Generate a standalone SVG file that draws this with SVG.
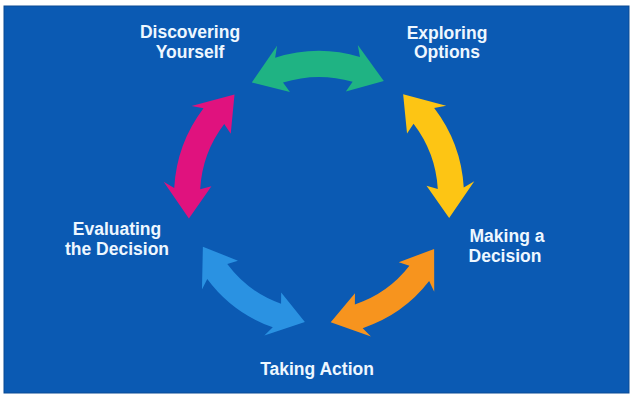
<svg xmlns="http://www.w3.org/2000/svg" xmlns:xlink="http://www.w3.org/1999/xlink" width="634" height="400" viewBox="0 0 634 400">
  <style>
    .lbl { font-family: "Liberation Sans", Arial, sans-serif; font-weight: bold; font-size: 17.5px; fill: #eef7ff; text-anchor: middle; }
  </style>
  <defs>
    <path id="arrow" d="M-66,-114.32 L-40.37,-150.68 L-42.4,-138.66 A145,145 0 0 1 42.4,-138.66 L40.37,-150.68 L66,-114.32 L27.95,-104.32 L34.8,-113.8 A119,119 0 0 0 -34.8,-113.8 L-27.95,-104.32 Z"/>
  </defs>
  <rect x="0" y="0" width="634" height="400" fill="#ffffff"/>
  <rect x="4" y="6" width="625" height="387" fill="#0b5ab3" stroke="#0a4a94" stroke-width="1"/>

  <g id="connectors">
    <use xlink:href="#arrow" href="#arrow" fill="#1fb383" transform="translate(319,196) rotate(-0.6)"/>
    <use xlink:href="#arrow" href="#arrow" fill="#fdc514" transform="translate(319,196) rotate(69.6)"/>
    <use xlink:href="#arrow" href="#arrow" fill="#f7941e" transform="translate(319,196) rotate(144.7) scale(0.96)"/>
    <use xlink:href="#arrow" href="#arrow" fill="#2a92e2" transform="translate(319,196) rotate(216.4) scale(0.96)"/>
    <use xlink:href="#arrow" href="#arrow" fill="#e0127e" transform="translate(319,196) rotate(290.2)"/>
  </g>

  <g id="discovering-yourself">
    <text class="lbl" x="190" y="38">Discovering</text>
    <text class="lbl" x="190" y="58">Yourself</text>
  </g>
  <g id="exploring-options">
    <text class="lbl" x="447" y="39">Exploring</text>
    <text class="lbl" x="447" y="58">Options</text>
  </g>
  <g id="making-a-decision">
    <text class="lbl" x="507" y="242">Making a</text>
    <text class="lbl" x="505" y="262">Decision</text>
  </g>
  <g id="taking-action">
    <text class="lbl" x="317" y="375">Taking Action</text>
  </g>
  <g id="evaluating-the-decision">
    <text class="lbl" x="117" y="235">Evaluating</text>
    <text class="lbl" x="117" y="255">the Decision</text>
  </g>
</svg>
